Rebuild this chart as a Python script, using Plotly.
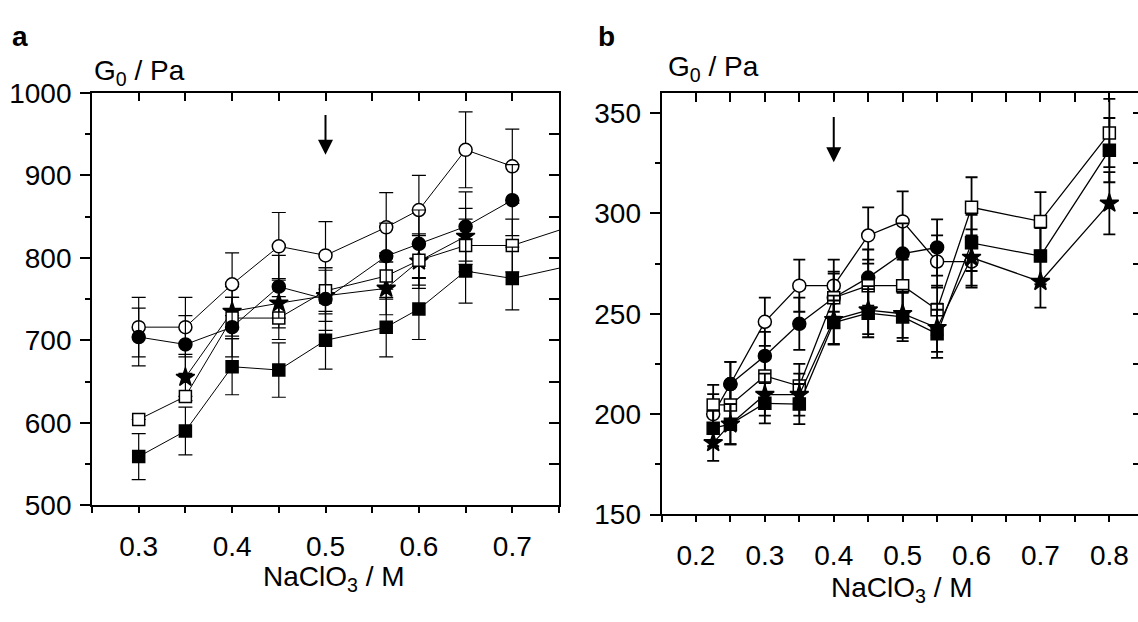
import plotly.graph_objects as go

# ---------------- Panel a data ----------------
xa = [0.3, 0.35, 0.4, 0.45, 0.5, 0.565, 0.6, 0.65, 0.7, 0.8]
a_open_circle = [716, 716, 768, 814, 803, 837, 858, 931, 911]
a_open_circle_err = [36, 36, 38, 41, 41, 42, 42, 46, 45]
a_filled_circle = [704, 695, 716, 765, 750, 802, 817, 838, 870]
a_filled_circle_err = [35, 35, 36, 38, 38, 40, 41, 42, 43]
xa_star = [0.35, 0.4, 0.45, 0.5, 0.565, 0.6, 0.65]
a_star = [655, 735, 745, 754, 763, 796, 826]
a_star_err = [28, 30, 30, 31, 32, 33, 34]
a_open_square = [604, 632, 727, 727, 760, 778, 797, 815, 815, 852]
a_open_square_err = [0, 0, 25, 26, 28, 28, 30, 32, 32, 34]
a_filled_square = [559, 590, 668, 664, 700, 716, 738, 784, 775, 800]
a_filled_square_err = [28, 29, 34, 33, 35, 36, 37, 39, 38, 40]

# ---------------- Panel b data ----------------
xb = [0.225, 0.25, 0.3, 0.35, 0.4, 0.45, 0.5, 0.55, 0.6, 0.7, 0.8]
b_open_circle = [200, 215, 246, 264, 264, 289, 296, 276, 276]
b_open_circle_err = [10, 11, 12, 13, 13, 14, 15, 13, 13]
xb_fc = [0.25, 0.3, 0.35, 0.4, 0.45, 0.5, 0.55]
b_filled_circle = [215, 229, 245, 258, 268, 280, 283]
b_filled_circle_err = [11, 12, 13, 13, 14, 15, 14]
b_open_square = [204.6, 204.6, 219, 214, 258, 264, 264, 252, 303, 296, 340]
b_open_square_err = [10, 10, 11, 11, 12, 13, 13, 12, 15, 14.6, 17]
b_filled_square = [193, 195, 205.4, 205, 245.6, 250.3, 248.4, 240, 285.3, 278.7, 331.5]
b_filled_square_err = [9, 10, 10, 10, 11, 12, 12, 12, 14, 14, 16]
b_star = [185.7, 195, 209.7, 209.7, 247, 251.8, 250, 243, 278, 266, 305]
b_star_err = [9, 10, 10.5, 10.5, 12, 12, 12, 12, 14, 13, 15.5]

a_ticks = [0.3, 0.4, 0.5, 0.6, 0.7]
a_yticks = [500, 600, 700, 800, 900, 1000]
b_ticks = [0.2, 0.3, 0.4, 0.5, 0.6, 0.7, 0.8]
b_yticks = [150, 200, 250, 300, 350]

FONT = "Liberation Sans"
W, H = 1138, 622

fig = go.Figure()


def add_series(x, y, err, symbol, filled, size, xaxis, yaxis, lw, ew, cap):
    n = min(len(x), len(y))
    fig.add_trace(go.Scatter(
        x=x[:n], y=y[:n], mode="lines+markers",
        xaxis=xaxis, yaxis=yaxis, showlegend=False, hoverinfo="skip",
        line=dict(color="black", width=lw),
        marker=dict(symbol=symbol, size=size,
                    color="black" if filled else "white",
                    line=dict(color="black", width=1.5)),
        error_y=dict(type="data", array=err[:n], symmetric=True,
                     color="black", thickness=ew, width=cap),
    ))


# panel a
add_series(xa_star, a_star, a_star_err, "star", True, 14, "x", "y", 1, 1.2, 7)
add_series(xa, a_open_circle, a_open_circle_err, "circle", False, 13, "x", "y", 1, 1.2, 7)
add_series(xa, a_open_square, a_open_square_err, "square", False, 12, "x", "y", 1, 1.2, 7)
add_series(xa, a_filled_circle, a_filled_circle_err, "circle", True, 13, "x", "y", 1, 1.2, 7)
add_series(xa, a_filled_square, a_filled_square_err, "square", True, 12, "x", "y", 1, 1.2, 7)

# panel b
add_series(xb, b_open_circle, b_open_circle_err, "circle", False, 13, "x2", "y2", 1.3, 1.8, 6)
add_series(xb_fc, b_filled_circle, b_filled_circle_err, "circle", True, 13, "x2", "y2", 1.3, 1.8, 6)
add_series(xb, b_open_square, b_open_square_err, "square", False, 12, "x2", "y2", 1.3, 1.8, 6)
add_series(xb, b_star, b_star_err, "star", True, 14, "x2", "y2", 1.3, 1.8, 6)
add_series(xb, b_filled_square, b_filled_square_err, "square", True, 12, "x2", "y2", 1.3, 1.8, 6)

# empty traces to activate mirror axes
fig.add_trace(go.Scatter(x=[], y=[], xaxis="x3", yaxis="y3", showlegend=False))
fig.add_trace(go.Scatter(x=[], y=[], xaxis="x4", yaxis="y4", showlegend=False))

dom_ax = [92 / W, 559 / W]
dom_ay = [(H - 516) / H, (H - 82) / H]
dom_bx = [661.5 / W, 1.0]
dom_by = [(H - 525.7) / H, (H - 82) / H]
ra_x = [0.25, 0.75]
ra_y = [500, 1000]
rb_x = [0.15, 0.15 + (W - 661.5) / 689.0]
rb_y = [150, 360]

tickfont = dict(family=FONT, size=28, color="black")
common = dict(showgrid=False, zeroline=False, linecolor="black", linewidth=1.8,
              tickcolor="black", tickwidth=1.5, tickfont=tickfont)

fig.update_layout(
    width=W, height=H, margin=dict(l=0, r=0, t=0, b=0),
    paper_bgcolor="white", plot_bgcolor="white",
    xaxis=dict(domain=dom_ax, range=ra_x, anchor="y", showline=True,
               tickmode="array", tickvals=a_ticks, ticktext=[f"{v:.1f}" for v in a_ticks],
               ticks="outside", ticklen=6,
               minor=dict(tickmode="linear", tick0=0.25, dtick=0.05, ticks="outside",
                          ticklen=6, tickwidth=1.5, tickcolor="black"),
               ticklabelstandoff=9, **common),
    yaxis=dict(domain=dom_ay, range=ra_y, anchor="x", showline=True,
               tickmode="array", tickvals=a_yticks,
               ticks="outside", ticklen=10,
               minor=dict(tickmode="linear", tick0=500, dtick=50, ticks="outside",
                          ticklen=5, tickwidth=1.5, tickcolor="black"),
               ticklabelstandoff=3, **common),
    xaxis3=dict(overlaying="x", side="top", anchor="y", range=ra_x, showline=True,
                tickmode="linear", tick0=0.25, dtick=0.05, ticks="inside", ticklen=8,
                showticklabels=False, **common),
    yaxis3=dict(overlaying="y", side="right", anchor="x", range=ra_y, showline=True,
                tickmode="linear", tick0=500, dtick=50, ticks="inside", ticklen=10,
                showticklabels=False, **common),
    xaxis2=dict(domain=dom_bx, range=rb_x, anchor="y2", showline=True,
                tickmode="array", tickvals=b_ticks, ticktext=[f"{v:.1f}" for v in b_ticks],
                ticks="outside", ticklen=6,
                minor=dict(tickmode="linear", tick0=0.15, dtick=0.05, ticks="outside",
                           ticklen=6, tickwidth=1.5, tickcolor="black"),
                ticklabelstandoff=9, **common),
    yaxis2=dict(domain=dom_by, range=rb_y, anchor="x2", showline=True,
                tickmode="array", tickvals=b_yticks,
                ticks="outside", ticklen=10,
                minor=dict(tickmode="linear", tick0=150, dtick=25, ticks="outside",
                           ticklen=5, tickwidth=1.5, tickcolor="black"),
                ticklabelstandoff=3, **common),
    xaxis4=dict(overlaying="x2", side="top", anchor="y2", range=rb_x, showline=True,
                tickmode="linear", tick0=0.15, dtick=0.05, ticks="inside", ticklen=9,
                showticklabels=False, **common),
    yaxis4=dict(overlaying="y2", side="right", anchor="x2", range=rb_y, showline=False,
                tickmode="linear", tick0=150, dtick=25, ticks="inside", ticklen=5,
                showticklabels=False, **common),
)

titlefont = dict(family=FONT, size=28, color="black")
labelfont = dict(family=FONT, size=28, color="black")
ann = [
    dict(text="<b>a</b>", x=10 / W, y=(H - 23) / H, xref="paper", yref="paper",
         xanchor="left", yanchor="middle", showarrow=False, font=labelfont),
    dict(text="<b>b</b>", x=596 / W, y=(H - 23) / H, xref="paper", yref="paper",
         xanchor="left", yanchor="middle", showarrow=False, font=labelfont),
    dict(text="G<sub>0</sub> / Pa", x=92 / W, y=(H - 60) / H, xref="paper", yref="paper",
         xanchor="left", yanchor="middle", showarrow=False, font=titlefont),
    dict(text="G<sub>0</sub> / Pa", x=666 / W, y=(H - 56) / H, xref="paper", yref="paper",
         xanchor="left", yanchor="middle", showarrow=False, font=titlefont),
    dict(text="NaClO<sub>3</sub> / M", x=334 / W, y=(H - 593) / H, xref="paper", yref="paper",
         xanchor="center", yanchor="middle", showarrow=False, font=titlefont),
    dict(text="NaClO<sub>3</sub> / M", x=902 / W, y=(H - 605) / H, xref="paper", yref="paper",
         xanchor="center", yanchor="middle", showarrow=False, font=titlefont),
    dict(text="", x=0.5, y=925, ax=0.5, ay=975, xref="x", yref="y", axref="x", ayref="y",
         showarrow=True, arrowhead=2, arrowsize=1.5, arrowwidth=2, arrowcolor="black"),
    dict(text="", x=0.4, y=325.5, ax=0.4, ay=348.7, xref="x2", yref="y2", axref="x2", ayref="y2",
         showarrow=True, arrowhead=2, arrowsize=1.5, arrowwidth=2, arrowcolor="black"),
]
fig.update_layout(annotations=ann)

fig.write_html(
    "out.html",
    config={"displayModeBar": False},
    post_script="document.body.style.margin='0';document.body.style.overflow='hidden';",
)
